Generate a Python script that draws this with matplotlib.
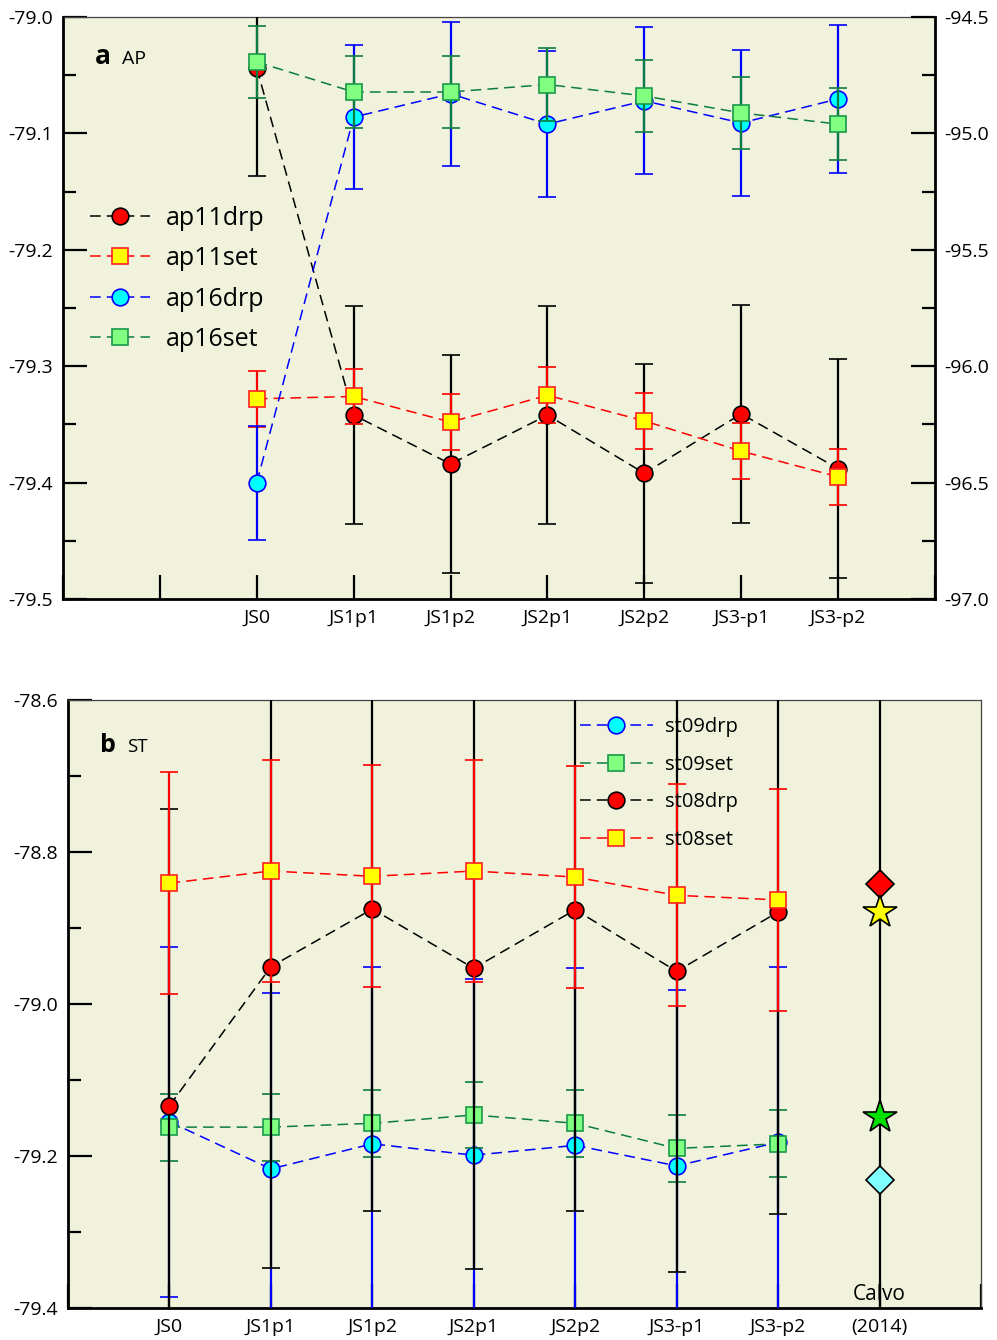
import matplotlib
matplotlib.use('Agg')
import matplotlib.pyplot as plt
import numpy as np
from matplotlib.ticker import MultipleLocator, FormatStrFormatter

plt.rcParams['font.family'] = ['Open Sans', 'DejaVu Sans']

# ---------------- data ----------------
stages = ['JS0', 'JS1p1', 'JS1p2', 'JS2p1', 'JS2p2', 'JS3-p1', 'JS3-p2']

# panel a (AP)
ap11drp = [-79.044, -79.342, -79.384, -79.342, -79.392, -79.341, -79.388]
ap11drp_err = [0.093, 0.094, 0.094, 0.094, 0.094, 0.094, 0.094]
ap11set = [-79.328, -79.326, -79.348, -79.325, -79.347, -79.373, -79.395]
ap11set_err = [0.024, 0.024, 0.024, 0.024, 0.024, 0.024, 0.024]
ap16drp = [-96.50, -94.930, -94.830, -94.960, -94.860, -94.955, -94.852]
ap16drp_err = [0.245, 0.31, 0.31, 0.315, 0.315, 0.314, 0.316]
ap16set = [-94.693, -94.822, -94.822, -94.790, -94.839, -94.912, -94.960]
ap16set_err = [0.153, 0.155, 0.155, 0.155, 0.155, 0.155, 0.155]

# panel b (ST)
st09drp = [-79.155, -79.217, -79.184, -79.199, -79.186, -79.213, -79.182]
st09drp_err = [0.23, 0.232, 0.233, 0.232, 0.233, 0.231, 0.231]
st09set = [-79.162, -79.162, -79.157, -79.146, -79.157, -79.190, -79.184]
st09set_err = [0.044, 0.044, 0.044, 0.044, 0.044, 0.044, 0.044]
st08drp = [-79.134, -78.951, -78.875, -78.953, -78.876, -78.957, -78.879]
st08drp_err = [0.39, 0.396, 0.397, 0.396, 0.397, 0.396, 0.397]
st08set = [-78.841, -78.825, -78.832, -78.825, -78.833, -78.857, -78.863]
st08set_err = [0.146, 0.146, 0.146, 0.146, 0.146, 0.146, 0.146]

# Calvo (2014) reference values
calvo_vals = [-78.842, -78.879, -79.149, -79.232]
calvo_marker = ['D', '*', '*', 'D']
calvo_face = ['#ff0000', '#ffff00', '#00e000', '#80ffff']
calvo_size = [14.5, 25, 25, 14.5]

# ---------------- styles ----------------
bg = '#f1f2dc'
dkgreen = '#0b7d3e'
styles = {
    'drp_red': dict(marker='o', color='black', mfc='#ff0000', mec='black', ecolor='black', ms=12),
    'set_yel': dict(marker='s', color='#ff0000', mfc='#ffff00', mec='#ff2020', ecolor='#ff0000', ms=11.5),
    'drp_cyan': dict(marker='o', color='#0000ff', mfc='#00ffff', mec='#0000ff', ecolor='#0000ff', ms=12),
    'set_grn': dict(marker='s', color=dkgreen, mfc='#80ff80', mec='#1a9a4a', ecolor=dkgreen, ms=11.5),
}
common = dict(ls='--', lw=1.1, dashes=(7, 4), elinewidth=1.6, capsize=6.5, capthick=1.6, mew=1.2)

tick_font = 14


def draw(ax, x, y, err, key, label, z):
    eb = ax.errorbar(x, y, yerr=err, label=label, zorder=z, **styles[key], **common)
    return eb[0]


def style_axes(ax):
    ax.set_facecolor(bg)
    for s in ['left', 'bottom']:
        ax.spines[s].set_linewidth(2)
        ax.spines[s].set_color('black')
    ax.spines['top'].set_linewidth(0.9)
    ax.spines['top'].set_color('#444444')
    ax.spines['right'].set_linewidth(0.9)
    ax.spines['right'].set_color('#444444')
    ax.tick_params(axis='both', which='major', direction='in', length=17, width=1.6,
                   labelsize=tick_font, pad=7)
    ax.tick_params(axis='y', which='minor', direction='in', length=9.5, width=1.6)
    ax.tick_params(axis='x', which='minor', bottom=False)


fig = plt.figure(figsize=(9.97, 13.40), dpi=100)

# ================= panel a =================
ax = fig.add_axes([0.0632, 0.5530, 0.8746, 0.4343])
style_axes(ax)
xa = np.arange(2, 9)
h1 = draw(ax, xa, ap11drp, ap11drp_err, 'drp_red', 'ap11drp', 3)
h2 = draw(ax, xa, ap11set, ap11set_err, 'set_yel', 'ap11set', 4)
ax.set_xlim(0, 9)
ax.set_ylim(-79.5, -79.0)
ax.set_xticks(np.arange(0, 10))
ax.set_xticklabels([''] * 2 + stages + [''])
ax.yaxis.set_major_locator(MultipleLocator(0.1))
ax.yaxis.set_minor_locator(MultipleLocator(0.05))
ax.yaxis.set_major_formatter(FormatStrFormatter('%.1f'))

ax2 = ax.twinx()
ax2.spines['right'].set_linewidth(2)
ax2.spines['right'].set_color('black')
ax2.spines['top'].set_visible(False)
h3 = draw(ax2, xa, ap16drp, ap16drp_err, 'drp_cyan', 'ap16drp', 3)
h4 = draw(ax2, xa, ap16set, ap16set_err, 'set_grn', 'ap16set', 4)
ax2.set_ylim(-97.0, -94.5)
ax2.yaxis.set_major_locator(MultipleLocator(0.5))
ax2.yaxis.set_minor_locator(MultipleLocator(0.25))
ax2.yaxis.set_major_formatter(FormatStrFormatter('%.1f'))
ax2.tick_params(axis='y', which='major', direction='in', length=17, width=1.6,
                labelsize=tick_font, pad=7)
ax2.tick_params(axis='y', which='minor', direction='in', length=9.5, width=1.6)

ax.text(0.037, 0.919, 'a', transform=ax.transAxes, fontsize=19, fontweight='bold',
        va='baseline')
ax.text(0.0677, 0.919, 'AP', transform=ax.transAxes, fontsize=14, va='baseline')

ax2.legend([h1, h2, h3, h4], ['ap11drp', 'ap11set', 'ap16drp', 'ap16set'],
           loc='upper left', bbox_to_anchor=(0.02, 0.693), frameon=False,
           fontsize=18, handlelength=2.4, handletextpad=0.6, labelspacing=0.62,
           borderaxespad=0, numpoints=1)

# ================= panel b =================
bx = fig.add_axes([0.0682, 0.0239, 0.9157, 0.4537])
style_axes(bx)
xb = np.arange(1, 8)
g1 = draw(bx, xb, st09drp, st09drp_err, 'drp_cyan', 'st09drp', 3)
g2 = draw(bx, xb, st09set, st09set_err, 'set_grn', 'st09set', 4)
g3 = draw(bx, xb, st08drp, st08drp_err, 'drp_red', 'st08drp', 5)
g4 = draw(bx, xb, st08set, st08set_err, 'set_yel', 'st08set', 6)

# Calvo (2014) column
bx.axvline(8, color='black', lw=1.6, zorder=5)
for v, m, fc, s in zip(calvo_vals, calvo_marker, calvo_face, calvo_size):
    bx.plot([8], [v], marker=m, ms=s, mfc=fc, mec='black', mew=1.2, ls='none', zorder=7)
bx.text(8, -79.4 + 0.004, 'Calvo', ha='center', va='bottom', fontsize=15, zorder=8)

bx.set_xlim(0, 9)
bx.set_ylim(-79.4, -78.6)
bx.set_xticks(np.arange(0, 10))
bx.set_xticklabels([''] + stages + ['(2014)', ''])
bx.yaxis.set_major_locator(MultipleLocator(0.2))
bx.yaxis.set_minor_locator(MultipleLocator(0.1))
bx.yaxis.set_major_formatter(FormatStrFormatter('%.1f'))

bx.text(0.035, 0.9145, 'b', transform=bx.transAxes, fontsize=18, fontweight='bold',
        va='baseline')
bx.text(0.0646, 0.9145, 'ST', transform=bx.transAxes, fontsize=13.5, va='baseline')

leg = bx.legend([g1, g2, g3, g4], ['st09drp', 'st09set', 'st08drp', 'st08set'],
                loc='upper left', bbox_to_anchor=(0.552, 0.985), frameon=False,
                fontsize=14.5, handlelength=3.6, handletextpad=0.6, labelspacing=0.87,
                borderaxespad=0, numpoints=1)
leg.set_zorder(10)

fig.savefig('out.png', dpi=100)
